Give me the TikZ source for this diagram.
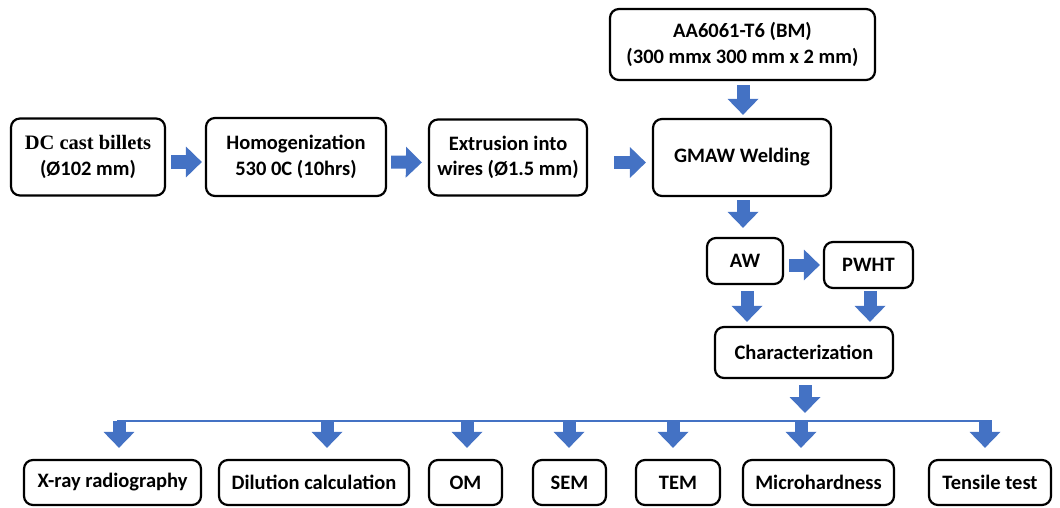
\documentclass[tikz,border=0pt]{standalone}
\usepackage{fontspec}
\setmainfont{Carlito}
\newfontfamily\tnr{Liberation Serif}
\usetikzlibrary{arrows.meta}
\definecolor{arrblue}{HTML}{4472C4}
\tikzset{
  box/.style={draw=black, line width=2.2pt, rounded corners=9pt, fill=white,
    inner sep=0pt, align=center, font=\fontsize{20.5}{25.5}\selectfont\bfseries},
  barrow/.style={draw=arrblue, line width=13pt, -{Triangle[length=16pt,width=30pt]}, arrblue},
  busline/.style={draw=arrblue, line width=2.4pt}
}
\begin{document}
\begin{tikzpicture}[x=1pt,y=-1pt]
\useasboundingbox (0,0) rectangle (1060,508);
% top row
\node[box, minimum width=154pt, minimum height=77pt] (dc) at (88,157)
  {{\tnr\bfseries DC cast billets}\\(Ø102 mm)};
\node[box, minimum width=180pt, minimum height=78pt] (homog) at (296,157)
  {Homogenization\\530 0C (10hrs)};
\node[box, minimum width=158pt, minimum height=76pt] (extr) at (508,157.5)
  {Extrusion into\\wires (Ø1.5 mm)};
\node[box, minimum width=178pt, minimum height=77pt] (gmaw) at (742,157.5)
  {GMAW Welding};
\node[box, minimum width=265pt, minimum height=71pt] (aa) at (742.5,44.5)
  {AA6061-T6 (BM)\\(300 mmx 300 mm x 2 mm)};
\node[box, minimum width=76pt, minimum height=46pt] (aw) at (745,261) {AW};
\node[box, minimum width=89pt, minimum height=46pt] (pwht) at (868.5,265) {PWHT};
\node[box, minimum width=178pt, minimum height=51pt] (char) at (804,352.5) {Characterization};
% bottom row
\node[box, minimum width=177pt, minimum height=45pt] (xray) at (112.5,482.5) {X-ray radiography};
\node[box, minimum width=190pt, minimum height=45pt] (dil) at (314,482.5) {Dilution calculation};
\node[box, minimum width=73pt, minimum height=45pt] (om) at (465.5,482.5) {OM};
\node[box, minimum width=73pt, minimum height=45pt] (sem) at (569.5,482.5) {SEM};
\node[box, minimum width=84pt, minimum height=45pt] (tem) at (678,482.5) {TEM};
\node[box, minimum width=151pt, minimum height=45pt] (micro) at (818.5,482.5) {Microhardness};
\node[box, minimum width=122pt, minimum height=45pt] (tens) at (990,482.5) {Tensile test};
% arrows top row
\draw[barrow, shorten <=5pt, shorten >=3pt] ([yshift=-5pt]dc.east) -- ([yshift=-5pt]homog.west);
\draw[barrow, shorten <=4pt, shorten >=6pt] ([yshift=-5pt]homog.east) -- ([yshift=-5pt]extr.west);
\draw[barrow, shorten <=26pt, shorten >=6pt] ([yshift=-5pt]extr.east) -- ([yshift=-5pt]gmaw.west);
\draw[barrow, shorten <=4pt, shorten >=3pt] ([xshift=0.5pt]aa.south) -- ([xshift=0.5pt]aa.south |- gmaw.north);
\draw[barrow, shorten <=3pt, shorten >=9pt] ([xshift=1pt]gmaw.south) -- ([xshift=1pt]gmaw.south |- aw.north);
\draw[barrow, shorten <=5pt, shorten >=3pt] (aw.east |- pwht.west) -- (pwht.west);
\draw[barrow, shorten <=6pt, shorten >=4pt] ([xshift=2pt]aw.south) -- ([xshift=2pt]aw.south |- char.north);
\draw[barrow, shorten <=2pt, shorten >=4pt] ([xshift=1.5pt]pwht.south) -- ([xshift=1.5pt]pwht.south |- char.north);
% bus
\coordinate (busL) at (117,421);
\coordinate (busR) at (992,421);
\draw[barrow, shorten <=6pt, shorten >=8pt] ([xshift=1pt]char.south) -- ([xshift=1pt]char.south |- busL);
\draw[busline] (busL) -- (busR);
\coordinate (d1) at (119,421);
\coordinate (d2) at (327,421);
\coordinate (d3) at (467,421);
\coordinate (d4) at (569,421);
\coordinate (d5) at (673,421);
\coordinate (d6) at (801,421);
\coordinate (d7) at (985,421);
\draw[barrow, shorten >=11pt] (d1) -- (d1 |- xray.north);
\draw[barrow, shorten >=11pt] (d2) -- (d2 |- dil.north);
\draw[barrow, shorten >=11pt] (d3) -- (d3 |- om.north);
\draw[barrow, shorten >=11pt] (d4) -- (d4 |- sem.north);
\draw[barrow, shorten >=11pt] (d5) -- (d5 |- tem.north);
\draw[barrow, shorten >=11pt] (d6) -- (d6 |- micro.north);
\draw[barrow, shorten >=11pt] (d7) -- (d7 |- tens.north);
\end{tikzpicture}
\end{document}
